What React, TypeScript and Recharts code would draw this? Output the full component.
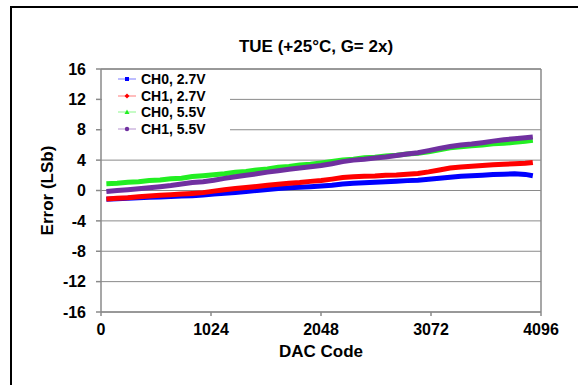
import { LineChart, Line, XAxis, YAxis, CartesianGrid, Legend, Label, ReferenceLine } from "recharts"

const codes = [
  50, 150, 250, 350, 450, 550, 650, 750, 850, 950,
  1050, 1150, 1250, 1350, 1450, 1550, 1650, 1750, 1850, 1950,
  2050, 2150, 2250, 2350, 2450, 2550, 2650, 2750, 2850, 2950,
  3050, 3150, 3250, 3350, 3450, 3550, 3650, 3750, 3850, 3950, 4020,
]

const ch0_27 = [
  -1.15, -1.1, -1.02, -0.95, -0.9, -0.85, -0.8, -0.72, -0.68, -0.6,
  -0.45, -0.35, -0.25, -0.12, 0.0, 0.12, 0.25, 0.35, 0.42, 0.5,
  0.58, 0.68, 0.85, 0.95, 1.02, 1.08, 1.15, 1.22, 1.3, 1.35,
  1.48, 1.62, 1.75, 1.88, 1.95, 2.02, 2.1, 2.15, 2.2, 2.12, 1.95,
]

const ch1_27 = [
  -1.12, -1.02, -0.95, -0.82, -0.72, -0.62, -0.55, -0.45, -0.38, -0.28,
  -0.08, 0.1, 0.25, 0.38, 0.52, 0.68, 0.82, 0.95, 1.05, 1.2,
  1.32, 1.5, 1.7, 1.8, 1.88, 1.92, 2.0, 2.05, 2.15, 2.25,
  2.45, 2.7, 2.95, 3.08, 3.2, 3.28, 3.38, 3.45, 3.52, 3.58, 3.7,
]

const ch0_55 = [
  0.88, 0.95, 1.08, 1.15, 1.32, 1.38, 1.55, 1.62, 1.84, 1.95,
  2.08, 2.22, 2.4, 2.5, 2.7, 2.82, 3.05, 3.15, 3.35, 3.45,
  3.62, 3.82, 4.02, 4.12, 4.3, 4.38, 4.56, 4.65, 4.8, 4.92,
  5.1, 5.35, 5.62, 5.75, 5.9, 5.98, 6.15, 6.22, 6.35, 6.48, 6.6,
]

const ch1_55 = [
  -0.12, 0.0, 0.1, 0.22, 0.35, 0.5, 0.65, 0.85, 1.05, 1.15,
  1.35, 1.6, 1.82, 2.0, 2.2, 2.42, 2.6, 2.8, 2.95, 3.12,
  3.3, 3.52, 3.8, 4.0, 4.12, 4.28, 4.42, 4.6, 4.8, 4.98,
  5.25, 5.55, 5.8, 5.98, 6.12, 6.3, 6.5, 6.68, 6.82, 6.95, 7.05,
]

const xTicks = [0, 1024, 2048, 3072, 4096]
const yTicks = [-16, -12, -8, -4, 0, 4, 8, 12, 16]

const series = [
  { key: "ch0_27", name: "CH0, 2.7V", color: "#0000ff", marker: "square" },
  { key: "ch1_27", name: "CH1, 2.7V", color: "#ff0000", marker: "diamond" },
  { key: "ch0_55", name: "CH0, 5.5V", color: "#22ee22", marker: "triangle" },
  { key: "ch1_55", name: "CH1, 5.5V", color: "#7030a0", marker: "circle" },
]

const data = codes.map((code, i) => ({
  code,
  ch0_27: ch0_27[i],
  ch1_27: ch1_27[i],
  ch0_55: ch0_55[i],
  ch1_55: ch1_55[i],
}))

const font = "'Liberation Sans', Arial, sans-serif"
const gridColor = "#8a8a8a"

const Marker = ({ kind, color }: { kind: string; color: string }) => {
  if (kind === "square") return <rect x={9} y={4} width={4} height={4} fill={color} />
  if (kind === "diamond") return <polygon points="11,3.5 13.5,6 11,8.5 8.5,6" fill={color} />
  if (kind === "triangle") return <polygon points="11,3.5 13.5,8 8.5,8" fill={color} />
  return <circle cx={11} cy={6} r={2.2} fill={color} />
}

const LegendBox = () => (
  <div style={{ background: "#fff", width: 128, height: 68, paddingTop: 1 }}>
    {series.map((s) => (
      <div key={s.key} style={{ display: "flex", alignItems: "center", height: 16.5 }}>
        <svg width={22} height={12} style={{ marginLeft: 14 }}>
          <line x1={2} y1={6} x2={20} y2={6} stroke={s.color} strokeOpacity={0.35} strokeWidth={1.5} />
          <Marker kind={s.marker} color={s.color} />
        </svg>
        <span style={{ fontFamily: font, fontWeight: "bold", fontSize: 14, color: "#000", marginLeft: 3 }}>{s.name}</span>
      </div>
    ))}
  </div>
)

export default function App() {
  return (
    <div style={{ position: "absolute", left: 0, top: 0, width: 578, height: 385, background: "#fff", overflow: "hidden" }}>
      <div style={{ position: "absolute", left: 10, top: 6, width: 700, height: 500, borderLeft: "2px solid #000", borderTop: "2px solid #000" }} />
      <div style={{ position: "absolute", left: 0, top: 37, width: 632, textAlign: "center", fontFamily: font, fontWeight: "bold", fontSize: 17 }}>
        TUE (+25°C, G= 2x)
      </div>
      <div style={{ position: "absolute", left: 0, top: 0 }}>
        <LineChart width={578} height={385} data={data} margin={{ top: 69, right: 37, bottom: 43, left: 20 }}>
          <CartesianGrid vertical={false} stroke={gridColor} strokeWidth={1} />
          <ReferenceLine x={4096} stroke={gridColor} strokeWidth={1.5} />
          <ReferenceLine y={16} stroke={gridColor} strokeWidth={1.5} />
          <XAxis
            dataKey="code"
            type="number"
            domain={[0, 4096]}
            ticks={xTicks}
            height={30}
            tickSize={4}
            tickMargin={8}
            stroke={gridColor}
            strokeWidth={1.5}
            tick={{ fill: "#000", fontFamily: font, fontWeight: "bold", fontSize: 16 }}
          >
            <Label value="DAC Code" position="bottom" offset={3} style={{ fill: "#000", fontFamily: font, fontWeight: "bold", fontSize: 17 }} />
          </XAxis>
          <YAxis
            type="number"
            domain={[-16, 16]}
            ticks={yTicks}
            width={81}
            tickSize={5}
            tickMargin={10}
            stroke={gridColor}
            strokeWidth={1.5}
            tick={{ fill: "#000", fontFamily: font, fontWeight: "bold", fontSize: 16 }}
          >
            <Label value="Error (LSb)" angle={-90} position="insideLeft" offset={27} style={{ textAnchor: "middle", fill: "#000", fontFamily: font, fontWeight: "bold", fontSize: 17 }} />
          </YAxis>
          {series.map((s) => (
            <Line
              key={s.key}
              dataKey={s.key}
              name={s.name}
              stroke={s.color}
              strokeWidth={5}
              dot={false}
              type="linear"
              isAnimationActive={false}
            />
          ))}
          <Legend
            layout="vertical"
            align="center"
            verticalAlign="middle"
            content={() => <LegendBox />}
            wrapperStyle={{ left: 102, top: 70, width: 128, height: 68 }}
          />
        </LineChart>
      </div>
    </div>
  )
}
